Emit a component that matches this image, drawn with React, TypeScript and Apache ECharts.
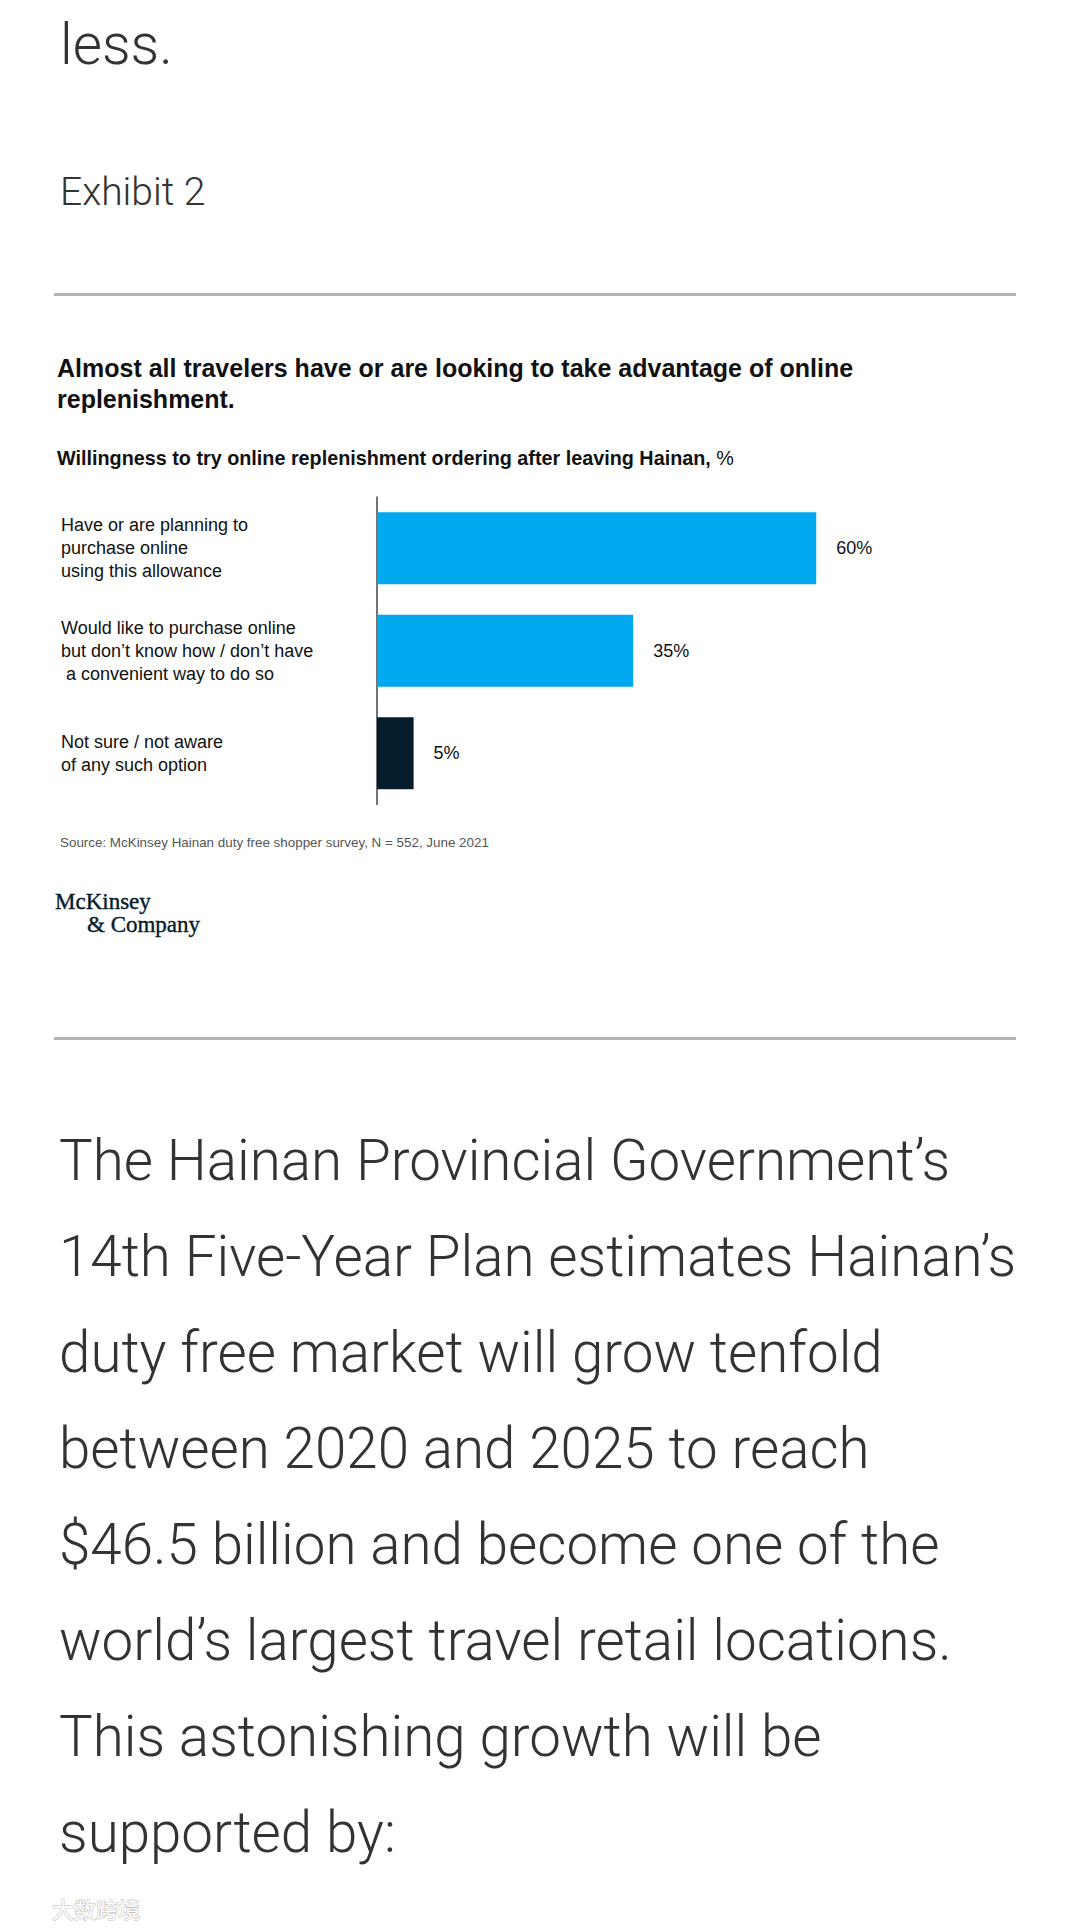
import React, { useEffect, useRef } from "react";
import * as echarts from "echarts";

const categories = [
  "Have or are planning to\npurchase online\nusing this allowance",
  "Would like to purchase online\nbut don’t know how / don’t have\n a convenient way to do so",
  "Not sure / not aware\nof any such option",
];
const values = [60, 35, 5];
const barColors = ["#00a8f0", "#00a8f0", "#051c2c"];

const titleLines = [
  "Almost all travelers have or are looking to take advantage of online",
  "replenishment.",
];
const subtitleBold = "Willingness to try online replenishment ordering after leaving Hainan,";
const subtitleRest = " %";
const sourceText = "Source: McKinsey Hainan duty free shopper survey, N = 552, June 2021";
const bodyLines = [
  "The Hainan Provincial Government’s",
  "14th Five-Year Plan estimates Hainan’s",
  "duty free market will grow tenfold",
  "between 2020 and 2025 to reach",
  "$46.5 billion and become one of the",
  "world’s largest travel retail locations.",
  "This astonishing growth will be",
  "supported by:",
];

const W = 1080;
const H = 1929;

export default function App() {
  const ref = useRef<HTMLDivElement>(null);
  useEffect(() => {
    document.body.style.margin = "0";
    const chart = echarts.init(ref.current!, null, { renderer: "svg" });
    const bodyFont = "Roboto, 'Liberation Sans', sans-serif";
    const sans = "'Liberation Sans', Arial, sans-serif";
    const serif = "'Liberation Serif', serif";
    const graphics: any[] = [];
    graphics.push({
      type: "text", x: 60, y: 45,
      style: { text: "less.", font: `300 56.5px ${bodyFont}`, fill: "#333", verticalAlign: "middle" },
    });
    graphics.push({
      type: "text", x: 60, y: 192,
      style: { text: "Exhibit 2", font: `300 39px ${bodyFont}`, fill: "#333", verticalAlign: "middle" },
    });
    graphics.push({ type: "rect", shape: { x: 54, y: 293, width: 962, height: 3 }, style: { fill: "#b3b3b3" } });
    titleLines.forEach((t, i) => {
      graphics.push({
        type: "text", x: 57, y: 368 + i * 31,
        style: { text: t, font: `bold 25px ${sans}`, fill: "#111", verticalAlign: "middle" },
      });
    });
    graphics.push({
      type: "text", x: 57, y: 458,
      style: {
        text: `{b|${subtitleBold}}{r|${subtitleRest}}`,
        verticalAlign: "middle",
        rich: {
          b: { font: `bold 19.8px ${sans}`, fill: "#111" },
          r: { font: `19.8px ${sans}`, fill: "#111" },
        },
      },
    });
    graphics.push({
      type: "text", x: 60, y: 842,
      style: { text: sourceText, font: `13.4px ${sans}`, fill: "#555", verticalAlign: "middle" },
    });
    graphics.push({
      type: "text", x: 55, y: 901,
      style: { text: "McKinsey", font: `23px ${serif}`, fill: "#051c2c", verticalAlign: "middle", stroke: "#051c2c", lineWidth: 0.4 },
    });
    graphics.push({
      type: "text", x: 87, y: 924.5,
      style: { text: "& Company", font: `23px ${serif}`, fill: "#051c2c", verticalAlign: "middle", stroke: "#051c2c", lineWidth: 0.4 },
    });
    graphics.push({ type: "rect", shape: { x: 54, y: 1037, width: 962, height: 3 }, style: { fill: "#b3b3b3" } });
    bodyLines.forEach((t, i) => {
      graphics.push({
        type: "text", x: 59, y: 1181 + i * 96 - 20,
        style: { text: t, font: `300 56.5px ${bodyFont}`, fill: "#333", verticalAlign: "middle" },
      });
    });
    graphics.push({
      type: "text", x: 52, y: 1908,
      style: {
        text: "大数跨境", font: `22px 'Noto Sans CJK SC', sans-serif`, fill: "#fff",
        stroke: "#bbb", lineWidth: 1, verticalAlign: "middle",
      },
    });

    chart.setOption({
      animation: false,
      backgroundColor: "#fff",
      grid: {
        left: 377, top: 497, width: 585.6, height: 307.5,
        containLabel: false, outerBoundsMode: "none",
      },
      xAxis: {
        type: "value", min: 0, max: 80, show: false,
        splitLine: { show: false },
      },
      yAxis: {
        type: "category", inverse: true, data: categories,
        axisLine: { show: true, lineStyle: { color: "#444", width: 1.5 } },
        axisTick: { show: false },
        axisLabel: {
          align: "left", margin: 316, fontSize: 18, lineHeight: 23,
          color: "#111", fontFamily: sans,
        },
      },
      series: [
        {
          type: "bar",
          barWidth: 72,
          data: values.map((v, i) => ({ value: v, itemStyle: { color: barColors[i] } })),
          label: {
            show: true, position: "right", distance: 20, formatter: "{c}%",
            fontSize: 18, color: "#111", fontFamily: sans,
          },
        },
      ],
      graphic: graphics,
    });
    return () => chart.dispose();
  }, []);
  return <div ref={ref} style={{ position: "absolute", left: 0, top: 0, width: W, height: H }} />;
}
